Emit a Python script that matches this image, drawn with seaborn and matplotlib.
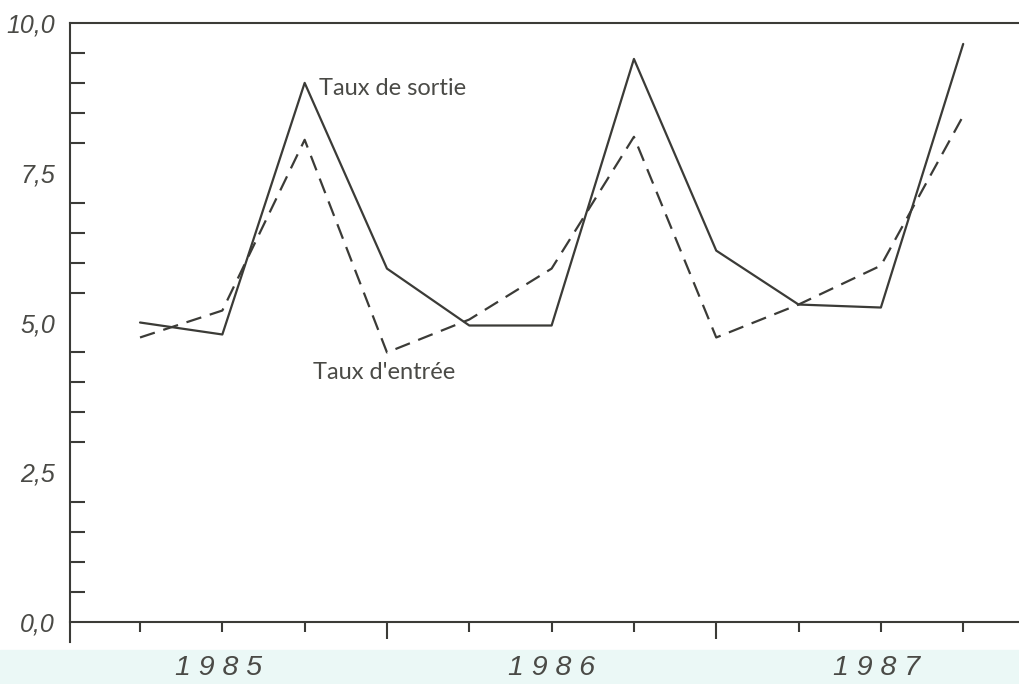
import matplotlib
matplotlib.use('Agg')
import numpy as np
import pandas as pd
import matplotlib.pyplot as plt
from matplotlib.patches import Rectangle
import seaborn as sns

# quarterly rates, 1985 -> 1987
quarters = list(range(11))
taux_sortie = [5.0, 4.8, 9.0, 5.9, 4.95, 4.95, 9.4, 6.2, 5.3, 5.25, 9.65]
taux_entree = [4.75, 5.2, 8.05, 4.5, 5.05, 5.9, 8.1, 4.75, 5.3, 5.95, 8.45]
years = ['1 9 8 5', '1 9 8 6', '1 9 8 7']
year_pos = [0.95, 5.0, 8.95]
year_bounds = [3, 7]
y_major = [0, 2.5, 5, 7.5, 10]

ink = '#3b3b37'
label_ink = '#4a4a46'

sns.set_style('white')
plt.rcParams['font.family'] = ['Liberation Sans', 'DejaVu Sans']

df = pd.DataFrame({'trimestre': quarters, 'sortie': taux_sortie, 'entree': taux_entree})

fig = plt.figure(figsize=(10.2, 6.84), dpi=100)
# light tinted strip at the bottom of the scan
fig.patches.append(Rectangle((0, 0), 1, 0.05, transform=fig.transFigure,
                             color='#ebf8f6', zorder=-5))
ax = fig.add_axes([0.0686, 0.0906, 0.9314, 0.8758])
ax.patch.set_alpha(0)

sns.lineplot(data=df, x='trimestre', y='sortie', ax=ax, color=ink, lw=1.6)
sns.lineplot(data=df, x='trimestre', y='entree', ax=ax, color=ink, lw=1.6,
             linestyle=(0, (7, 4)))

ax.set_xlim(-0.851, 10.69)
ax.set_ylim(0, 10)
ax.set_xlabel('')
ax.set_ylabel('')

# axes frame: left, bottom and top only
for side in ['left', 'bottom', 'top']:
    ax.spines[side].set_color(ink)
    ax.spines[side].set_linewidth(1.5)
ax.spines['right'].set_visible(False)
ax.spines['left'].set_bounds(-0.33, 10)

# y ticks pointing inwards, long at every 2,5
ax.set_yticks(y_major)
ax.set_yticks(np.arange(0, 10.01, 0.5), minor=True)
ax.set_yticklabels([f'{v:.1f}'.replace('.', ',') for v in y_major],
                   fontstyle='italic', color=label_ink)
ax.tick_params(axis='y', which='major', direction='in', length=19, width=1.5,
               color=ink, labelsize=18, pad=11)
ax.tick_params(axis='y', which='minor', direction='in', length=10.5, width=1.5,
               color=ink, left=True)

# x ticks: one per quarter, longer at year boundaries
ax.set_xticks(year_bounds)
ax.set_xticks(quarters, minor=True)
ax.set_xticklabels([])
ax.tick_params(axis='x', which='major', direction='out', length=12, width=1.5,
               color=ink, bottom=True)
ax.tick_params(axis='x', which='minor', direction='out', length=7, width=1.5,
               color=ink, bottom=True)

for pos, yr in zip(year_pos, years):
    ax.text(pos, -0.0765, yr, transform=ax.get_xaxis_transform(), ha='center',
            va='center', fontsize=20.5, fontstyle='italic', color=label_ink,
            zorder=5)

ax.text(2.175, 8.9, 'Taux de sortie', ha='left', va='center', fontsize=17,
        family=['Lato', 'DejaVu Sans'], color=label_ink)
ax.text(2.10, 4.16, "Taux d'entrée", ha='left', va='center', fontsize=17,
        family=['Lato', 'DejaVu Sans'], color=label_ink)

plt.savefig('out.png', dpi=100)
